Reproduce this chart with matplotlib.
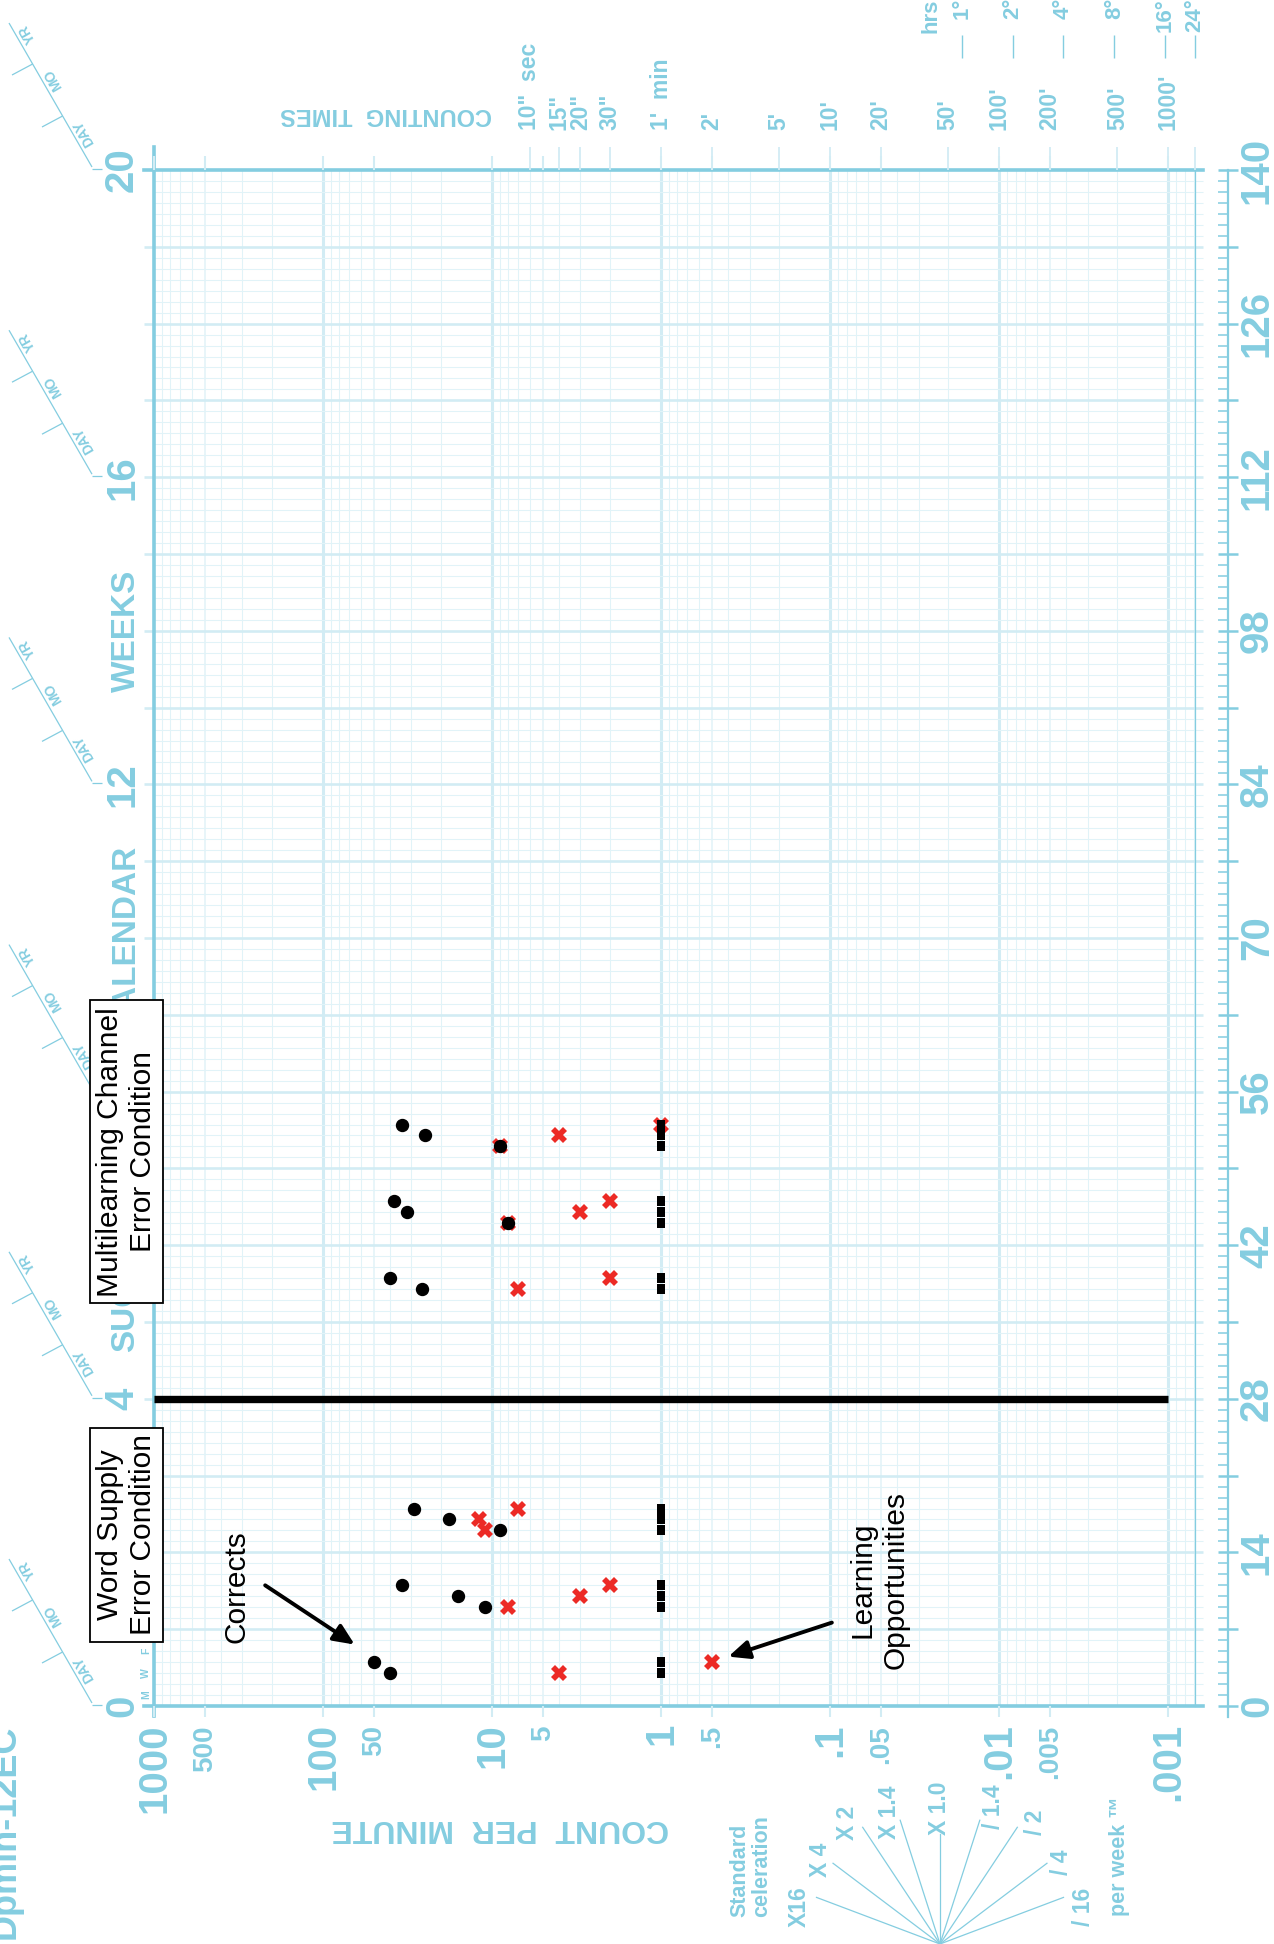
import numpy as np
import matplotlib
matplotlib.use('Agg')
import matplotlib.pyplot as plt
from matplotlib.collections import LineCollection
from matplotlib.lines import Line2D
from matplotlib.transforms import offset_copy

plt.rcParams['font.family'] = ['Liberation Sans', 'DejaVu Sans']

# word supply error condition (days, counts per minute)
ws_days = [3, 4, 9, 10, 11, 16, 17, 18]
ws_corrects = [40, 50, 11, 16, 34, 9, 18, 29]
ws_errors = [4, 0.5, 8, 3, 2, 11, 12, 7]

# multilearning channel error condition
mc_days = [38, 39, 44, 45, 46, 51, 52, 53]
mc_corrects = [26, 40, 8, 32, 38, 9, 25, 34]
mc_errors = [7, 2, 8, 3, 2, 9, 4, 1]

record_floor = 1          # one minute timings
phase_change_day = 28

count_major = [1000, 100, 10, 1, 0.1, 0.01, 0.001]
count_major_labels = ['1000', '100', '10', '1', '.1', '.01', '.001']
count_minor = [500, 50, 5, 0.5, 0.05, 0.005]
count_minor_labels = ['500', '50', '5', '.5', '.05', '.005']

time_minutes = [1 / 6, 1 / 4, 1 / 3, 1 / 2, 1, 2, 5, 10, 20, 50, 100, 200, 500, 1000]
time_labels = ['10"  sec', '15"', '20"', '30"', "1'  min", "2'", "5'", "10'",
               "20'", "50'", "100'", "200'", "500'", "1000'"]
hours = [1, 2, 4, 8, 16, 24]
hour_labels = ['1°', '2°', '4°', '8°', '16°', '24°']

celerations = [16, 4, 2, 1.4, 1.0, 1 / 1.4, 1 / 2, 1 / 4, 1 / 16]
celeration_labels = ['X16', 'X 4', 'X 2', 'X 1.4', 'X 1.0', '/ 1.4', '/ 2', '/ 4', '/ 16']

BLUE = '#84CDE0'
GRID_MINOR = '#E1F3F8'
GRID_MAJOR = '#D2ECF4'
RED = '#EC2A25'

FIG_W, FIG_H = 1274, 1944
PX_L, PX_R, PX_T, PX_B = 154, 1195, 170, 1706

fig = plt.figure(figsize=(FIG_W / 100, FIG_H / 100), dpi=100)
ax = fig.add_axes([PX_L / FIG_W, 1 - PX_B / FIG_H,
                   (PX_R - PX_L) / FIG_W, (PX_B - PX_T) / FIG_H])
ax.set_xscale('log')
ax.set_xlim(1000, 1 / 1440)
ax.set_ylim(0, 140)
ax.axis('off')


def fx(px):
    return (px - PX_L) / (PX_R - PX_L)


def fy(py):
    return (PX_B - py) / (PX_B - PX_T)


DPP = 140 / (PX_B - PX_T)   # days per pixel
xt = ax.get_xaxis_transform()
yt = ax.get_yaxis_transform()
blue_bold = dict(color=BLUE, fontweight='bold')

# ---- grid ----
minor_vals = [m * 10.0 ** e for e in range(-4, 3) for m in (2, 3, 4, 6, 7, 8, 9)]
minor_vals = [v for v in minor_vals if 1 / 1440 <= v < 1000]
five_vals = [5 * 10.0 ** e for e in range(-4, 3) if 5 * 10.0 ** e >= 1 / 1440]
decade_vals = [10.0 ** e for e in range(-3, 3)]
ax.vlines(minor_vals, 0, 140, colors=GRID_MINOR, lw=0.75, zorder=1)
ax.vlines(five_vals, 0, 140, colors=GRID_MINOR, lw=1.1, zorder=1)
ax.vlines(decade_vals, 0, 140, colors=GRID_MAJOR, lw=2.2, zorder=1)

daily = [((0, d), (fx(1203), d)) for d in range(1, 140) if d % 7]
weekly = [((fx(144), d), (fx(1203), d)) for d in range(7, 140, 7)]
ax.add_collection(LineCollection(daily, colors=GRID_MINOR, lw=0.75,
                                 transform=yt, clip_on=False, zorder=1))
ax.add_collection(LineCollection(weekly, colors=GRID_MAJOR, lw=1.9,
                                 transform=yt, clip_on=False, zorder=1))

# ---- frame ----
ax.plot([0, 0], [fy(1716), fy(147)], transform=ax.transAxes, color=BLUE,
        lw=2.6, clip_on=False, zorder=2)
for d in (0, 140):
    ax.plot([fx(144), fx(1203)], [d, d], transform=yt, color=BLUE, lw=2.6,
            clip_on=False, zorder=2)
ax.plot([1, 1], [0, 1], transform=ax.transAxes, color=BLUE, lw=0.9,
        clip_on=False, zorder=2)

# ---- day scale on the right ----
ax.plot([fx(1228), fx(1228)], [-1, 140], transform=yt, color=BLUE, lw=1.6,
        clip_on=False)
day_ticks = [((fx(1218), d), (fx(1228), d)) for d in range(141) if d % 7]
week_ticks = [((fx(1218), d), (fx(1238), d)) for d in range(0, 141, 7)]
ax.add_collection(LineCollection(day_ticks, colors=BLUE, lw=1.1,
                                 transform=yt, clip_on=False))
ax.add_collection(LineCollection(week_ticks, colors=BLUE, lw=1.8,
                                 transform=yt, clip_on=False))
for d in range(0, 141, 14):
    ax.text(fx(1257), d, str(d), transform=yt, rotation=90, ha='center',
            va='center', fontsize=29, **blue_bold)

# ---- successive calendar weeks on the left ----
for w in range(0, 21, 4):
    d = w * 7
    ax.text(fx(122), d, str(w), transform=yt, rotation=90, ha='center',
            va='center', fontsize=29, zorder=2, **blue_bold)
    segs = [((fx(92), d + 3 * DPP), (fx(9), d + 147 * DPP)),
            ((fx(92), d + 1 * DPP), (fx(102), d + 1 * DPP)),
            ((fx(62.6), d + 54 * DPP), (fx(42), d + 43 * DPP)),
            ((fx(32.6), d + 106 * DPP), (fx(12), d + 95 * DPP))]
    ax.add_collection(LineCollection(segs, colors=BLUE, lw=0.9,
                                     transform=yt, clip_on=False))
    for lab, px, up in (('DAY', 84, 37), ('MO', 53, 91), ('YR', 28, 136)):
        ax.text(fx(px), d + up * DPP, lab, transform=yt, rotation=120,
                rotation_mode='anchor', ha='center', va='center',
                fontsize=10, **blue_bold)

for word, d in zip(['SUCCESSIVE', 'CALENDAR', 'WEEKS'], [42, 70, 98]):
    ax.text(fx(126), d, word, transform=yt, rotation=90, ha='center',
            va='center', fontsize=24, zorder=2, **blue_bold)

for lab, d in zip('MWF', [1, 3, 5]):
    ax.text(fx(146), d, lab, transform=yt, rotation=90, ha='center',
            va='center', fontsize=7.5, **blue_bold)

# ---- count per minute scale ----
tick_vals = count_major + count_minor
ax.add_collection(LineCollection([((v, fy(1717)), (v, 0)) for v in tick_vals],
                                 colors=GRID_MAJOR, lw=1.5, transform=xt,
                                 clip_on=False))
ax.add_collection(LineCollection([((v, 1), (v, fy(156))) for v in tick_vals],
                                 colors=GRID_MAJOR, lw=1.5, transform=xt,
                                 clip_on=False))
for v, lab in zip(count_major, count_major_labels):
    ax.text(v, fy(1723), lab, transform=xt, rotation=90, ha='center',
            va='top', fontsize=29, **blue_bold)
for v, lab in zip(count_minor, count_minor_labels):
    ax.text(v, fy(1725), lab, transform=xt, rotation=90, ha='center',
            va='top', fontsize=20, **blue_bold)

# ---- counting times along the top ----
time_counts = [1 / m for m in time_minutes] + [1 / 1440]
ax.add_collection(LineCollection([((v, 1), (v, fy(147))) for v in time_counts],
                                 colors=GRID_MAJOR, lw=1.3, transform=xt,
                                 clip_on=False))
for m, lab in zip(time_minutes, time_labels):
    ax.text(1 / m, fy(130), lab, transform=xt, rotation=90, ha='center',
            va='bottom', fontsize=16.5, **blue_bold)

hour_counts = [1 / (60 * h) for h in hours]
ax.add_collection(LineCollection([((v, fy(58)), (v, fy(35))) for v in hour_counts],
                                 colors=BLUE, lw=1.0, transform=xt,
                                 clip_on=False))
for v, lab in zip(hour_counts, hour_labels):
    ax.text(v, fy(-2), lab, transform=xt, rotation=90, ha='center',
            va='top', fontsize=16, **blue_bold)
ax.text(1 / 60, fy(33), 'hrs', rotation=90, ha='center', va='bottom',
        fontsize=16, transform=offset_copy(xt, fig=fig, x=-31, y=0, units='dots'),
        **blue_bold)

fig.text(386 / FIG_W, 1 - 114 / FIG_H, 'COUNTING  TIMES', rotation=180,
         ha='center', va='center', fontsize=17, **blue_bold)
fig.text(500 / FIG_W, 1 - 1828 / FIG_H, 'COUNT  PER  MINUTE', rotation=180,
         ha='center', va='center', fontsize=23, **blue_bold)
fig.text(5 / FIG_W, 1 - 1832 / FIG_H, 'Dpmin-12EC', rotation=90,
         ha='center', va='center', fontsize=26, **blue_bold)

# ---- celeration fan ----
px_decade = (PX_R - PX_L) / np.log10(1000 * 1440)
px_week = 7 / DPP
fan_origin = (940, 1944)
fan_len = [132, 134, 140, 130, 110, 130, 140, 134, 132]
fan_label_px = [(799, 1907), (821, 1860), (848, 1823), (890, 1812), (940, 1808),
                (993, 1807), (1036, 1822), (1062, 1862), (1083, 1907)]
ox, oy = fan_origin
for c, length, (lx, ly), lab in zip(celerations, fan_len, fan_label_px,
                                     celeration_labels):
    dx, dy = -np.log10(c) * px_decade, px_week
    n = np.hypot(dx, dy)
    x1, y1 = ox + length * dx / n, oy - length * dy / n
    fig.add_artist(Line2D([ox / FIG_W, x1 / FIG_W], [1 - oy / FIG_H, 1 - y1 / FIG_H],
                          transform=fig.transFigure, color=BLUE, lw=0.9))
    fig.text(lx / FIG_W, 1 - ly / FIG_H, lab, rotation=90, ha='center',
             va='center', fontsize=16.5, **blue_bold)
fig.text(751 / FIG_W, 1 - 1866 / FIG_H, 'Standard\nceleration', rotation=90,
         ha='center', va='center', multialignment='left', linespacing=1.05,
         fontsize=15.5, **blue_bold)
fig.text(1120 / FIG_W, 1 - 1856 / FIG_H, 'per week ™', rotation=90,
         ha='center', va='center', fontsize=15.5, **blue_bold)

# ---- data: count on the horizontal log scale, day on the vertical ----
all_days = ws_days + mc_days
floor_marker = [(-0.4, -0.5), (0.4, -0.5), (0.4, 0.5), (-0.4, 0.5), (-0.4, -0.5)]

ax.plot([1000, 0.001], [phase_change_day] * 2, color='black', lw=5.3,
        solid_capstyle='butt', zorder=4)
for days, errs in ((ws_days, ws_errors), (mc_days, mc_errors)):
    ax.plot(errs, days, ls='none', marker='X', ms=11, color=RED, mec=RED,
            mew=0, zorder=5)
ax.plot([record_floor] * len(all_days), all_days, ls='none', marker=floor_marker,
        ms=7.5, color='black', mew=0, zorder=6)
for days, corr in ((ws_days, ws_corrects), (mc_days, mc_corrects)):
    ax.plot(corr, days, ls='none', marker='o', ms=8.6, color='black', zorder=7)

# ---- annotations ----
box = dict(boxstyle='square,pad=0.22', fc='white', ec='black', lw=1.3)
ax.text(fx(126.5), 15.6, 'Word Supply\nError Condition', transform=yt,
        rotation=90, ha='center', va='center', multialignment='center',
        fontsize=21.5, bbox=box, zorder=10)
ax.text(fx(126.5), 50.5, 'Multilearning Channel\nError Condition', transform=yt,
        rotation=90, ha='center', va='center', multialignment='center',
        fontsize=21.5, bbox=box, zorder=10)

arrow = dict(arrowstyle='-|>,head_length=0.45,head_width=0.2', lw=2.8,
             color='black', shrinkA=0, shrinkB=0, mutation_scale=28)
ax.text(323, 10.86, 'Corrects', rotation=90, ha='center', va='center',
        fontsize=21.5, zorder=10)
ax.annotate('', xy=(65, 5.6), xytext=(220, 11.0), arrowprops=arrow, zorder=10)
ax.text(0.0513, 11.5, 'Learning\nOpportunities', rotation=90, ha='center',
        va='center', multialignment='center', fontsize=21.5, zorder=10)
ax.annotate('', xy=(0.40, 4.5), xytext=(0.0977, 7.6), arrowprops=arrow, zorder=10)

fig.savefig('out.png', dpi=100, facecolor='white')
